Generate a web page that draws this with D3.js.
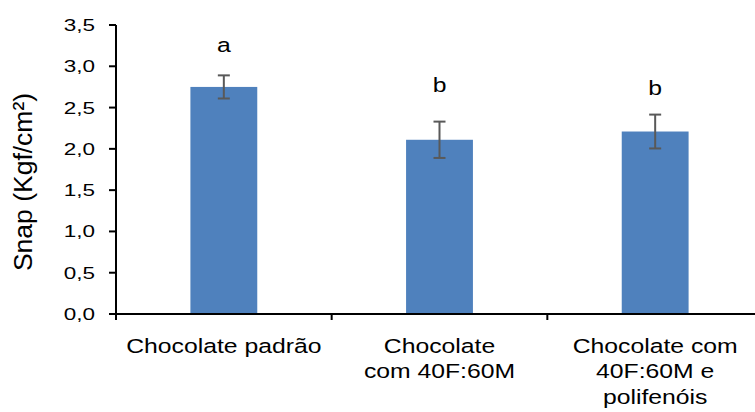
<!DOCTYPE html>
<html>
<head>
<meta charset="utf-8">
<script src="https://cdn.jsdelivr.net/npm/d3@7"></script>
<style>
	body { margin: 0; background: #fff; }
	svg { display: block; font-family: "Liberation Sans", Arial, sans-serif; }
</style>
</head>
<body>
<svg id="chart" width="755" height="412"></svg>
<script>
var categories = ["Chocolate padrão", "Chocolate\ncom 40F:60M", "Chocolate com\n40F:60M e\npolifenóis"];
var values = [2.75, 2.11, 2.21];
var errors = [0.14, 0.22, 0.205];
var letters = ["a", "b", "b"];
var letterY = [3.17, 2.69, 2.65];
var yTicks = [0, 0.5, 1, 1.5, 2, 2.5, 3, 3.5];
var yTitle = "Snap (Kgf/cm²)";

var Chart = (function(){
	var svg, x, y;
	var left = 116, right = 763, top = 25, bottom = 314;
	var ptBR = d3.formatLocale({decimal: ",", thousands: ".", grouping: [3], currency: ["R$", ""]});
	var fmt = ptBR.format(".1f");

	var setup = function(){
		svg = d3.select("#chart");
		x = d3.scaleBand().domain(d3.range(categories.length)).range([left, right])
				.paddingInner(0.69).paddingOuter(0.345);
		y = d3.scaleLinear().domain([0, 3.5]).range([bottom, top]);
	}

	var drawBars = function(){
		var bars = svg.append("g");
		bars.selectAll("rect")
			.data(values)
			.enter()
			.append("rect")
			.attr("x", function(d,i){ return x(i); })
			.attr("y", function(d){ return y(d); })
			.attr("width", x.bandwidth())
			.attr("height", function(d){ return y(0) - y(d); })
			.attr("fill", "#4F81BD");

		var err = svg.append("g")
					.attr("stroke", "#595959")
					.attr("stroke-width", 2);
		values.forEach(function(v,i){
			var cx = x(i) + x.bandwidth()/2;
			err.append("line")
				.attr("x1", cx).attr("x2", cx)
				.attr("y1", y(v + errors[i])).attr("y2", y(v - errors[i]));
			[v + errors[i], v - errors[i]].forEach(function(e){
				err.append("line")
					.attr("x1", cx - 6).attr("x2", cx + 6)
					.attr("y1", y(e)).attr("y2", y(e));
			});
		});

		svg.append("g").selectAll("g")
			.data(letters)
			.enter()
			.append("g")
			.attr("transform", function(d,i){ return "translate(" + (x(i) + x.bandwidth()/2) + "," + y(letterY[i]) + ")"; })
			.append("text")
			.attr("text-anchor", "middle")
			.attr("transform", "scale(1.27,1)")
			.attr("font-size", 19.5)
			.attr("fill", "#000")
			.text(function(d){ return d; });
	}

	var drawAxes = function(){
		var yAxis = svg.append("g");
		yAxis.append("line")
			.attr("x1", left).attr("x2", left)
			.attr("y1", y(3.5)).attr("y2", y(0))
			.attr("stroke", "#000").attr("stroke-width", 2);
		var yt = yAxis.selectAll("g.tick")
			.data(yTicks)
			.enter()
			.append("g")
			.attr("class", "tick")
			.attr("transform", function(d){ return "translate(0," + y(d) + ")"; });
		yt.append("line")
			.attr("x1", left - 7).attr("x2", left)
			.attr("stroke", "#000").attr("stroke-width", 2);
		yt.append("g")
			.attr("transform", "translate(95,0)")
			.append("text")
			.attr("text-anchor", "end")
			.attr("dy", "0.36em")
			.attr("font-size", 16.8)
			.attr("transform", "scale(1.34,1)")
			.attr("fill", "#000")
			.text(function(d){ return fmt(d); });

		var xAxis = svg.append("g");
		xAxis.append("line")
			.attr("x1", left - 1).attr("x2", right)
			.attr("y1", y(0)).attr("y2", y(0))
			.attr("stroke", "#000").attr("stroke-width", 2);
		xAxis.selectAll("line.tick")
			.data(d3.range(categories.length + 1))
			.enter()
			.append("line")
			.attr("class", "tick")
			.attr("x1", function(d){ return left + d * x.step(); })
			.attr("x2", function(d){ return left + d * x.step(); })
			.attr("y1", y(0)).attr("y2", y(0) + 6)
			.attr("stroke", "#000").attr("stroke-width", 2);

		var labels = xAxis.selectAll("g.cat")
			.data(categories)
			.enter()
			.append("g")
			.attr("class", "cat")
			.attr("transform", function(d,i){ return "translate(" + (x(i) + x.bandwidth()/2) + ",353)"; });
		labels.append("text")
			.attr("text-anchor", "middle")
			.attr("font-size", 19.5)
			.attr("transform", "scale(1.27,1)")
			.attr("fill", "#000")
			.selectAll("tspan")
			.data(function(d){ return d.split("\n"); })
			.enter()
			.append("tspan")
			.attr("x", 0)
			.attr("y", function(d,i){ return i * 25.5; })
			.text(function(d){ return d; });

		svg.append("text")
			.attr("transform", "translate(32,182) rotate(-90)")
			.attr("text-anchor", "middle")
			.attr("font-size", 26.5)
			.attr("fill", "#000")
			.text(yTitle);
	}

	return {
		setup: setup,
		render: function(){
			drawBars();
			drawAxes();
		}
	}
})();

Chart.setup();
Chart.render();
</script>
</body>
</html>
